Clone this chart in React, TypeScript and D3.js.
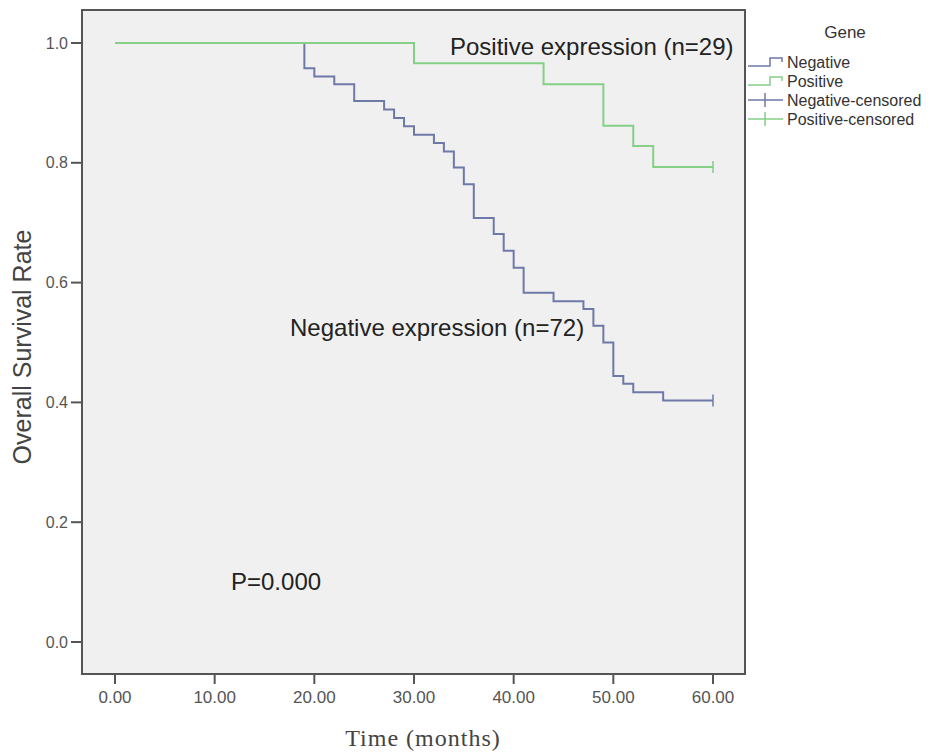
import React from 'react';
import * as d3 from 'd3';

// Kaplan-Meier steps (time in months, survival after the drop)
const negTimes = [19, 20, 22, 24, 27, 28, 29, 30, 32, 33, 34, 35, 36, 38, 39, 40, 41, 44, 47, 48, 49, 50, 51, 52, 55];
const negSurv = [0.958, 0.944, 0.931, 0.903, 0.889, 0.875, 0.861, 0.847, 0.833, 0.819, 0.792, 0.764, 0.708, 0.681, 0.653, 0.625, 0.583, 0.569, 0.556, 0.528, 0.5, 0.444, 0.431, 0.417, 0.403];
const posTimes = [30, 43, 49, 52, 54];
const posSurv = [0.966, 0.931, 0.862, 0.828, 0.793];
const censorTime = 60;

const xTicks = [0, 10, 20, 30, 40, 50, 60];
const yTicks = [0, 0.2, 0.4, 0.6, 0.8, 1.0];
const legendItems = ['Negative', 'Positive', 'Negative-censored', 'Positive-censored'];

const NEG = '#6e79a8';
const POS = '#86cf86';
const SANS = "Arial, 'Liberation Sans', sans-serif";

const frame = { left: 82, top: 10, right: 745, bottom: 674 };

const x = d3.scaleLinear().domain([0, 60]).range([115, 713]);
const y = d3.scaleLinear().domain([0, 1]).range([642, 43]);

const stepLine = d3.line<[number, number]>()
    .x(d => x(d[0]))
    .y(d => y(d[1]))
    .curve(d3.curveStepAfter);

function curvePoints(times: number[], surv: number[]): [number, number][] {
    const pts: [number, number][] = [[0, 1]];
    times.forEach((t, i) => pts.push([t, surv[i]]));
    pts.push([censorTime, surv[surv.length - 1]]);
    return pts;
}

export default function App() {
    const negPts = curvePoints(negTimes, negSurv);
    const posPts = curvePoints(posTimes, posSurv);
    const negEnd = negSurv[negSurv.length - 1];
    const posEnd = posSurv[posSurv.length - 1];

    return (
        <svg width={936} height={752} style={{ display: 'block', position: 'absolute', left: 0, top: 0 }}>
            <rect width={936} height={752} fill="#fff" />
            <rect x={frame.left} y={frame.top} width={frame.right - frame.left} height={frame.bottom - frame.top}
                fill="#f0f0f0" stroke="#555" strokeWidth={2} />

            {/* y axis */}
            {yTicks.map(t => (
                <g key={t}>
                    <line x1={71} x2={frame.left} y1={y(t)} y2={y(t)} stroke="#555" strokeWidth={2} />
                    <text x={68} y={y(t)} dy="0.35em" textAnchor="end" fontFamily={SANS} fontSize={16} fill="#555">
                        {t.toFixed(1)}
                    </text>
                </g>
            ))}
            <text transform="translate(31,347) rotate(-90)" textAnchor="middle" fontFamily={SANS} fontSize={25} fill="#444">
                Overall Survival Rate
            </text>

            {/* x axis */}
            {xTicks.map(t => (
                <g key={t}>
                    <line x1={x(t)} x2={x(t)} y1={frame.bottom} y2={684} stroke="#555" strokeWidth={2} />
                    <text x={x(t)} y={697} dy="0.35em" textAnchor="middle" fontFamily={SANS} fontSize={17} fill="#555">
                        {t.toFixed(2)}
                    </text>
                </g>
            ))}
            <text x={423} y={746} textAnchor="middle" fontFamily="'Liberation Serif', 'Times New Roman', serif"
                fontSize={24} fill="#444" letterSpacing={1}>
                Time (months)
            </text>

            {/* curves: negative first, positive drawn over it */}
            <path d={stepLine(negPts) || ''} fill="none" stroke={NEG} strokeWidth={2} />
            <path d={stepLine(posPts) || ''} fill="none" stroke={POS} strokeWidth={2} />
            <line x1={x(censorTime)} x2={x(censorTime)} y1={y(negEnd) - 6} y2={y(negEnd) + 6} stroke={NEG} strokeWidth={1.5} />
            <line x1={x(censorTime)} x2={x(censorTime)} y1={y(posEnd) - 6} y2={y(posEnd) + 6} stroke={POS} strokeWidth={1.5} />

            {/* annotations */}
            <text x={450} y={47} dy="0.35em" fontFamily={SANS} fontSize={24} fill="#222">Positive expression (n=29)</text>
            <text x={290} y={328} dy="0.35em" fontFamily={SANS} fontSize={24} fill="#222">Negative expression (n=72)</text>
            <text x={231} y={582} dy="0.35em" fontFamily={SANS} fontSize={24} fill="#222">P=0.000</text>

            {/* legend */}
            <text x={845} y={32} dy="0.35em" textAnchor="middle" fontFamily={SANS} fontSize={17} fill="#333">Gene</text>
            {legendItems.map((name, i) => {
                const cy = 62 + i * 19;
                const col = i % 2 === 0 ? NEG : POS;
                return (
                    <g key={name}>
                        {i < 2 ? (
                            <path d={`M748,${cy + 4}H770V${cy - 4}H782V${cy}`} fill="none" stroke={col} strokeWidth={1.5} />
                        ) : (
                            <g>
                                <line x1={748} x2={783} y1={cy} y2={cy} stroke={col} strokeWidth={1.5} />
                                <line x1={765} x2={765} y1={cy - 7} y2={cy + 7} stroke={col} strokeWidth={1.5} />
                            </g>
                        )}
                        <text x={787} y={cy} dy="0.35em" fontFamily={SANS} fontSize={16} fill="#333">{name}</text>
                    </g>
                );
            })}
        </svg>
    );
}
